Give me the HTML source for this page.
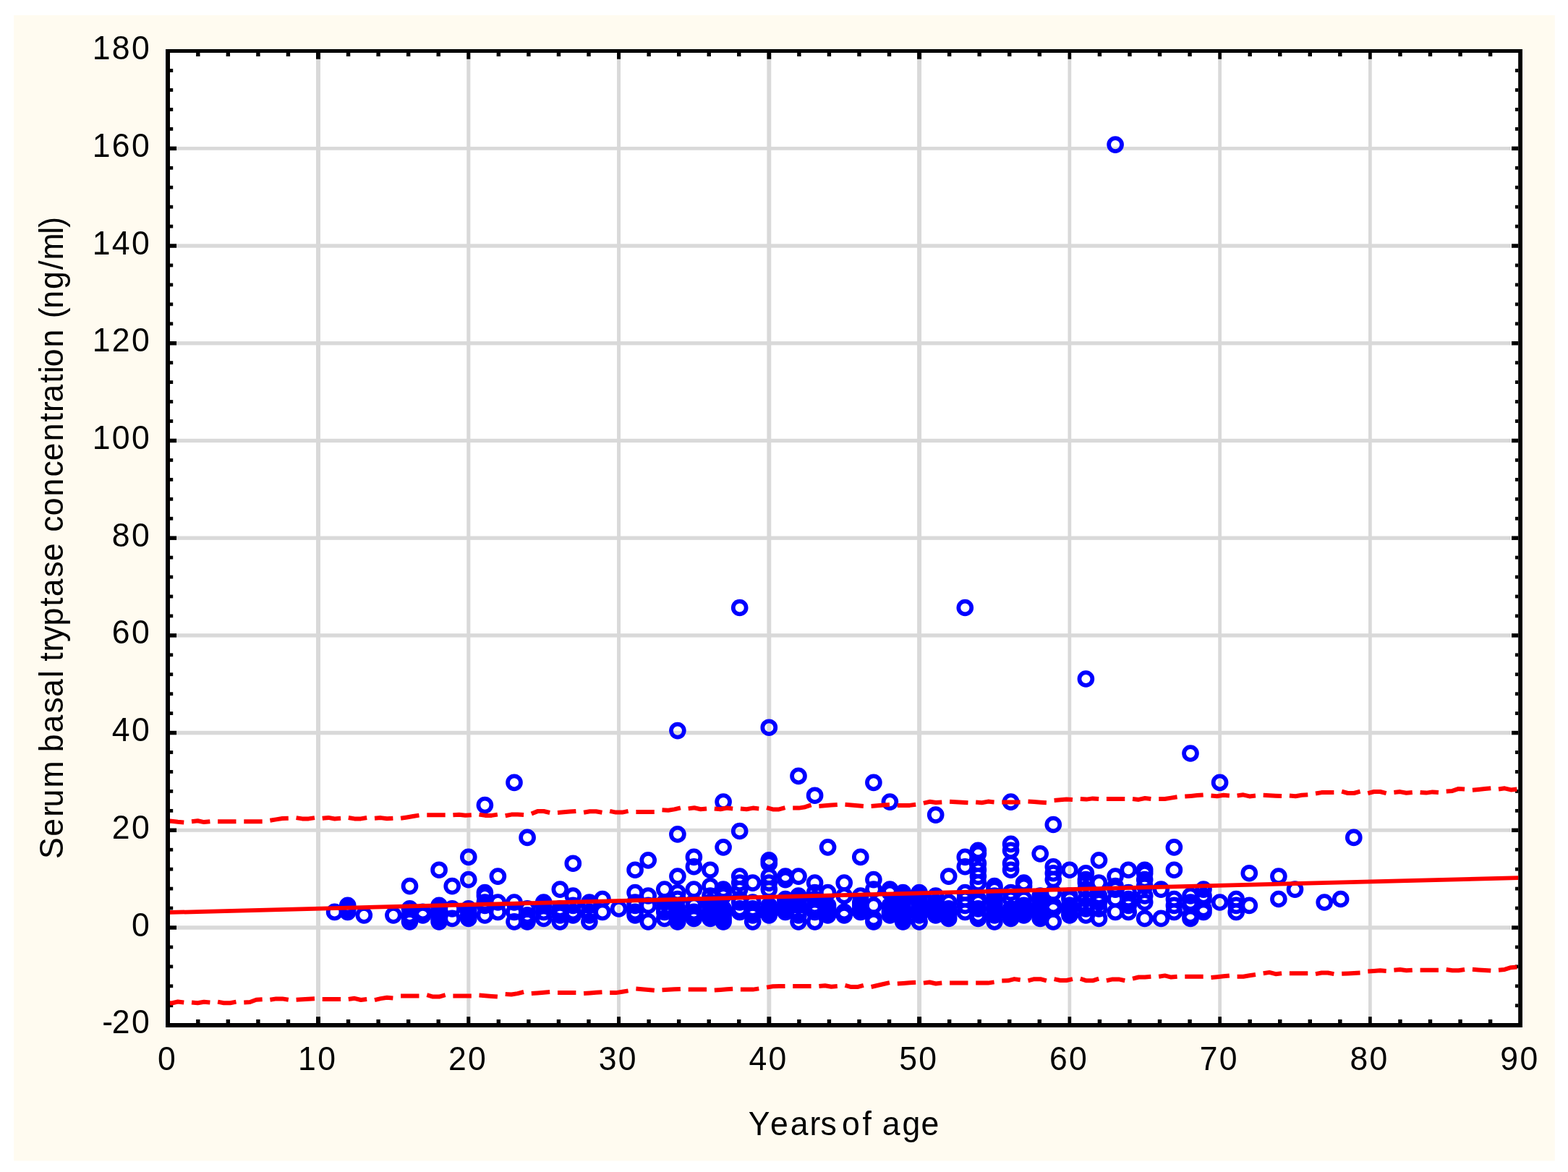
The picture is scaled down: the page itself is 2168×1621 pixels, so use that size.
<!DOCTYPE html>
<html lang="en"><head><meta charset="utf-8"><title>Serum basal tryptase concentration vs. years of age</title>
<style>html,body{margin:0;padding:0;background:#fff}body{width:2168px;height:1621px;overflow:hidden}svg{display:block}text{font-family:"Liberation Sans",Arial,Helvetica,sans-serif;fill:#000}</style>
</head><body>
<svg xmlns="http://www.w3.org/2000/svg" width="2168" height="1621" viewBox="0 0 2168 1621">
<rect x="0" y="0" width="2168" height="1621" fill="#ffffff"/>
<rect x="19.2" y="21" width="2130.6" height="1584.5" fill="#fffbf0"/>
<rect x="228" y="68.0" width="1877.0" height="1353.0" fill="#ffffff"/>
<g fill="#d9d9d9">
<rect x="437.02" y="82.0" width="6.0" height="1324.0"/>
<rect x="645.24" y="82.0" width="5.1" height="1324.0"/>
<rect x="853.06" y="82.0" width="5.0" height="1324.0"/>
<rect x="1060.37" y="82.0" width="5.9" height="1324.0"/>
<rect x="1268.09" y="82.0" width="6.0" height="1324.0"/>
<rect x="1476.51" y="82.0" width="4.7" height="1324.0"/>
<rect x="1684.28" y="82.0" width="4.7" height="1324.0"/>
<rect x="1892.05" y="82.0" width="4.7" height="1324.0"/>
<rect x="245.0" y="1280.25" width="1844.2" height="5.5"/>
<rect x="245.0" y="1145.79" width="1844.2" height="5.0"/>
<rect x="245.0" y="1010.83" width="1844.2" height="5.5"/>
<rect x="245.0" y="876.22" width="1844.2" height="5.3"/>
<rect x="245.0" y="741.51" width="1844.2" height="5.3"/>
<rect x="245.0" y="606.80" width="1844.2" height="5.3"/>
<rect x="245.0" y="472.09" width="1844.2" height="5.3"/>
<rect x="245.0" y="337.38" width="1844.2" height="5.3"/>
<rect x="245.0" y="202.92" width="1844.2" height="4.8"/>
</g>
<g fill="none" stroke="#0000ff" stroke-width="5.75">
<circle cx="462.6" cy="1261.4" r="8.95"/>
<circle cx="480.7" cy="1252.4" r="8.95"/>
<circle cx="480.7" cy="1256.9" r="8.95"/>
<circle cx="480.7" cy="1261.4" r="8.95"/>
<circle cx="503.3" cy="1265.9" r="8.95"/>
<circle cx="543.9" cy="1265.9" r="8.95"/>
<circle cx="566.5" cy="1225.6" r="8.95"/>
<circle cx="566.5" cy="1256.9" r="8.95"/>
<circle cx="566.5" cy="1265.9" r="8.95"/>
<circle cx="566.5" cy="1270.4" r="8.95"/>
<circle cx="566.5" cy="1274.8" r="8.95"/>
<circle cx="584.6" cy="1261.4" r="8.95"/>
<circle cx="584.6" cy="1265.9" r="8.95"/>
<circle cx="607.1" cy="1203.2" r="8.95"/>
<circle cx="607.1" cy="1252.4" r="8.95"/>
<circle cx="607.1" cy="1256.9" r="8.95"/>
<circle cx="607.1" cy="1261.4" r="8.95"/>
<circle cx="607.1" cy="1265.9" r="8.95"/>
<circle cx="607.1" cy="1270.4" r="8.95"/>
<circle cx="607.1" cy="1274.8" r="8.95"/>
<circle cx="625.2" cy="1225.6" r="8.95"/>
<circle cx="625.2" cy="1256.9" r="8.95"/>
<circle cx="625.2" cy="1270.4" r="8.95"/>
<circle cx="647.8" cy="1185.3" r="8.95"/>
<circle cx="647.8" cy="1216.6" r="8.95"/>
<circle cx="647.8" cy="1256.9" r="8.95"/>
<circle cx="647.8" cy="1261.4" r="8.95"/>
<circle cx="647.8" cy="1265.9" r="8.95"/>
<circle cx="647.8" cy="1270.4" r="8.95"/>
<circle cx="670.4" cy="1113.6" r="8.95"/>
<circle cx="670.4" cy="1234.5" r="8.95"/>
<circle cx="670.4" cy="1239.0" r="8.95"/>
<circle cx="670.4" cy="1248.0" r="8.95"/>
<circle cx="670.4" cy="1252.4" r="8.95"/>
<circle cx="670.4" cy="1265.9" r="8.95"/>
<circle cx="688.4" cy="1212.1" r="8.95"/>
<circle cx="688.4" cy="1248.0" r="8.95"/>
<circle cx="688.4" cy="1261.4" r="8.95"/>
<circle cx="711.0" cy="1082.3" r="8.95"/>
<circle cx="711.0" cy="1248.0" r="8.95"/>
<circle cx="711.0" cy="1261.4" r="8.95"/>
<circle cx="711.0" cy="1274.8" r="8.95"/>
<circle cx="729.1" cy="1158.4" r="8.95"/>
<circle cx="729.1" cy="1256.9" r="8.95"/>
<circle cx="729.1" cy="1265.9" r="8.95"/>
<circle cx="729.1" cy="1270.4" r="8.95"/>
<circle cx="729.1" cy="1274.8" r="8.95"/>
<circle cx="751.7" cy="1248.0" r="8.95"/>
<circle cx="751.7" cy="1252.4" r="8.95"/>
<circle cx="751.7" cy="1261.4" r="8.95"/>
<circle cx="751.7" cy="1270.4" r="8.95"/>
<circle cx="774.3" cy="1230.1" r="8.95"/>
<circle cx="774.3" cy="1256.9" r="8.95"/>
<circle cx="774.3" cy="1261.4" r="8.95"/>
<circle cx="774.3" cy="1265.9" r="8.95"/>
<circle cx="774.3" cy="1274.8" r="8.95"/>
<circle cx="792.3" cy="1194.2" r="8.95"/>
<circle cx="792.3" cy="1239.0" r="8.95"/>
<circle cx="792.3" cy="1252.4" r="8.95"/>
<circle cx="792.3" cy="1261.4" r="8.95"/>
<circle cx="792.3" cy="1265.9" r="8.95"/>
<circle cx="814.9" cy="1248.0" r="8.95"/>
<circle cx="814.9" cy="1252.4" r="8.95"/>
<circle cx="814.9" cy="1261.4" r="8.95"/>
<circle cx="814.9" cy="1265.9" r="8.95"/>
<circle cx="814.9" cy="1274.8" r="8.95"/>
<circle cx="833.0" cy="1243.5" r="8.95"/>
<circle cx="833.0" cy="1261.4" r="8.95"/>
<circle cx="855.6" cy="1256.9" r="8.95"/>
<circle cx="878.1" cy="1203.2" r="8.95"/>
<circle cx="878.1" cy="1234.5" r="8.95"/>
<circle cx="878.1" cy="1248.0" r="8.95"/>
<circle cx="878.1" cy="1252.4" r="8.95"/>
<circle cx="878.1" cy="1261.4" r="8.95"/>
<circle cx="878.1" cy="1265.9" r="8.95"/>
<circle cx="896.2" cy="1189.8" r="8.95"/>
<circle cx="896.2" cy="1239.0" r="8.95"/>
<circle cx="896.2" cy="1252.4" r="8.95"/>
<circle cx="896.2" cy="1274.8" r="8.95"/>
<circle cx="918.8" cy="1230.1" r="8.95"/>
<circle cx="918.8" cy="1248.0" r="8.95"/>
<circle cx="918.8" cy="1256.9" r="8.95"/>
<circle cx="918.8" cy="1261.4" r="8.95"/>
<circle cx="918.8" cy="1270.4" r="8.95"/>
<circle cx="936.9" cy="1010.6" r="8.95"/>
<circle cx="936.9" cy="1153.9" r="8.95"/>
<circle cx="936.9" cy="1212.1" r="8.95"/>
<circle cx="936.9" cy="1234.5" r="8.95"/>
<circle cx="936.9" cy="1243.5" r="8.95"/>
<circle cx="936.9" cy="1256.9" r="8.95"/>
<circle cx="936.9" cy="1261.4" r="8.95"/>
<circle cx="936.9" cy="1265.9" r="8.95"/>
<circle cx="936.9" cy="1270.4" r="8.95"/>
<circle cx="936.9" cy="1274.8" r="8.95"/>
<circle cx="959.4" cy="1185.3" r="8.95"/>
<circle cx="959.4" cy="1198.7" r="8.95"/>
<circle cx="959.4" cy="1230.1" r="8.95"/>
<circle cx="959.4" cy="1248.0" r="8.95"/>
<circle cx="959.4" cy="1252.4" r="8.95"/>
<circle cx="959.4" cy="1261.4" r="8.95"/>
<circle cx="959.4" cy="1265.9" r="8.95"/>
<circle cx="959.4" cy="1270.4" r="8.95"/>
<circle cx="982.0" cy="1203.2" r="8.95"/>
<circle cx="982.0" cy="1225.6" r="8.95"/>
<circle cx="982.0" cy="1239.0" r="8.95"/>
<circle cx="982.0" cy="1248.0" r="8.95"/>
<circle cx="982.0" cy="1256.9" r="8.95"/>
<circle cx="982.0" cy="1261.4" r="8.95"/>
<circle cx="982.0" cy="1265.9" r="8.95"/>
<circle cx="982.0" cy="1270.4" r="8.95"/>
<circle cx="1000.1" cy="1109.1" r="8.95"/>
<circle cx="1000.1" cy="1171.8" r="8.95"/>
<circle cx="1000.1" cy="1230.1" r="8.95"/>
<circle cx="1000.1" cy="1234.5" r="8.95"/>
<circle cx="1000.1" cy="1239.0" r="8.95"/>
<circle cx="1000.1" cy="1256.9" r="8.95"/>
<circle cx="1000.1" cy="1261.4" r="8.95"/>
<circle cx="1000.1" cy="1265.9" r="8.95"/>
<circle cx="1000.1" cy="1270.4" r="8.95"/>
<circle cx="1000.1" cy="1274.8" r="8.95"/>
<circle cx="1022.7" cy="840.5" r="8.95"/>
<circle cx="1022.7" cy="1149.5" r="8.95"/>
<circle cx="1022.7" cy="1212.1" r="8.95"/>
<circle cx="1022.7" cy="1221.1" r="8.95"/>
<circle cx="1022.7" cy="1230.1" r="8.95"/>
<circle cx="1022.7" cy="1243.5" r="8.95"/>
<circle cx="1022.7" cy="1248.0" r="8.95"/>
<circle cx="1022.7" cy="1256.9" r="8.95"/>
<circle cx="1022.7" cy="1261.4" r="8.95"/>
<circle cx="1040.7" cy="1221.1" r="8.95"/>
<circle cx="1040.7" cy="1248.0" r="8.95"/>
<circle cx="1040.7" cy="1256.9" r="8.95"/>
<circle cx="1040.7" cy="1261.4" r="8.95"/>
<circle cx="1040.7" cy="1265.9" r="8.95"/>
<circle cx="1040.7" cy="1274.8" r="8.95"/>
<circle cx="1063.3" cy="1006.2" r="8.95"/>
<circle cx="1063.3" cy="1189.8" r="8.95"/>
<circle cx="1063.3" cy="1194.2" r="8.95"/>
<circle cx="1063.3" cy="1212.1" r="8.95"/>
<circle cx="1063.3" cy="1221.1" r="8.95"/>
<circle cx="1063.3" cy="1230.1" r="8.95"/>
<circle cx="1063.3" cy="1252.4" r="8.95"/>
<circle cx="1063.3" cy="1256.9" r="8.95"/>
<circle cx="1063.3" cy="1261.4" r="8.95"/>
<circle cx="1063.3" cy="1265.9" r="8.95"/>
<circle cx="1085.9" cy="1212.1" r="8.95"/>
<circle cx="1085.9" cy="1216.6" r="8.95"/>
<circle cx="1085.9" cy="1243.5" r="8.95"/>
<circle cx="1085.9" cy="1248.0" r="8.95"/>
<circle cx="1085.9" cy="1252.4" r="8.95"/>
<circle cx="1085.9" cy="1256.9" r="8.95"/>
<circle cx="1085.9" cy="1261.4" r="8.95"/>
<circle cx="1104.0" cy="1073.3" r="8.95"/>
<circle cx="1104.0" cy="1212.1" r="8.95"/>
<circle cx="1104.0" cy="1239.0" r="8.95"/>
<circle cx="1104.0" cy="1243.5" r="8.95"/>
<circle cx="1104.0" cy="1248.0" r="8.95"/>
<circle cx="1104.0" cy="1252.4" r="8.95"/>
<circle cx="1104.0" cy="1261.4" r="8.95"/>
<circle cx="1104.0" cy="1265.9" r="8.95"/>
<circle cx="1104.0" cy="1274.8" r="8.95"/>
<circle cx="1126.6" cy="1100.2" r="8.95"/>
<circle cx="1126.6" cy="1221.1" r="8.95"/>
<circle cx="1126.6" cy="1234.5" r="8.95"/>
<circle cx="1126.6" cy="1243.5" r="8.95"/>
<circle cx="1126.6" cy="1252.4" r="8.95"/>
<circle cx="1126.6" cy="1256.9" r="8.95"/>
<circle cx="1126.6" cy="1261.4" r="8.95"/>
<circle cx="1126.6" cy="1274.8" r="8.95"/>
<circle cx="1144.6" cy="1171.8" r="8.95"/>
<circle cx="1144.6" cy="1234.5" r="8.95"/>
<circle cx="1144.6" cy="1252.4" r="8.95"/>
<circle cx="1144.6" cy="1256.9" r="8.95"/>
<circle cx="1144.6" cy="1261.4" r="8.95"/>
<circle cx="1144.6" cy="1265.9" r="8.95"/>
<circle cx="1167.2" cy="1221.1" r="8.95"/>
<circle cx="1167.2" cy="1239.0" r="8.95"/>
<circle cx="1167.2" cy="1261.4" r="8.95"/>
<circle cx="1167.2" cy="1265.9" r="8.95"/>
<circle cx="1189.8" cy="1185.3" r="8.95"/>
<circle cx="1189.8" cy="1239.0" r="8.95"/>
<circle cx="1189.8" cy="1248.0" r="8.95"/>
<circle cx="1189.8" cy="1252.4" r="8.95"/>
<circle cx="1189.8" cy="1256.9" r="8.95"/>
<circle cx="1189.8" cy="1261.4" r="8.95"/>
<circle cx="1207.9" cy="1082.3" r="8.95"/>
<circle cx="1207.9" cy="1216.6" r="8.95"/>
<circle cx="1207.9" cy="1230.1" r="8.95"/>
<circle cx="1207.9" cy="1252.4" r="8.95"/>
<circle cx="1207.9" cy="1270.4" r="8.95"/>
<circle cx="1207.9" cy="1274.8" r="8.95"/>
<circle cx="1230.4" cy="1109.1" r="8.95"/>
<circle cx="1230.4" cy="1230.1" r="8.95"/>
<circle cx="1230.4" cy="1234.5" r="8.95"/>
<circle cx="1230.4" cy="1252.4" r="8.95"/>
<circle cx="1230.4" cy="1256.9" r="8.95"/>
<circle cx="1230.4" cy="1261.4" r="8.95"/>
<circle cx="1230.4" cy="1265.9" r="8.95"/>
<circle cx="1248.5" cy="1234.5" r="8.95"/>
<circle cx="1248.5" cy="1239.0" r="8.95"/>
<circle cx="1248.5" cy="1243.5" r="8.95"/>
<circle cx="1248.5" cy="1248.0" r="8.95"/>
<circle cx="1248.5" cy="1256.9" r="8.95"/>
<circle cx="1248.5" cy="1261.4" r="8.95"/>
<circle cx="1248.5" cy="1265.9" r="8.95"/>
<circle cx="1248.5" cy="1270.4" r="8.95"/>
<circle cx="1248.5" cy="1274.8" r="8.95"/>
<circle cx="1271.1" cy="1234.5" r="8.95"/>
<circle cx="1271.1" cy="1239.0" r="8.95"/>
<circle cx="1271.1" cy="1243.5" r="8.95"/>
<circle cx="1271.1" cy="1248.0" r="8.95"/>
<circle cx="1271.1" cy="1252.4" r="8.95"/>
<circle cx="1271.1" cy="1256.9" r="8.95"/>
<circle cx="1271.1" cy="1261.4" r="8.95"/>
<circle cx="1271.1" cy="1265.9" r="8.95"/>
<circle cx="1271.1" cy="1274.8" r="8.95"/>
<circle cx="1293.7" cy="1127.1" r="8.95"/>
<circle cx="1293.7" cy="1239.0" r="8.95"/>
<circle cx="1293.7" cy="1248.0" r="8.95"/>
<circle cx="1293.7" cy="1252.4" r="8.95"/>
<circle cx="1293.7" cy="1256.9" r="8.95"/>
<circle cx="1293.7" cy="1261.4" r="8.95"/>
<circle cx="1293.7" cy="1265.9" r="8.95"/>
<circle cx="1311.7" cy="1212.1" r="8.95"/>
<circle cx="1311.7" cy="1248.0" r="8.95"/>
<circle cx="1311.7" cy="1256.9" r="8.95"/>
<circle cx="1311.7" cy="1261.4" r="8.95"/>
<circle cx="1311.7" cy="1265.9" r="8.95"/>
<circle cx="1311.7" cy="1270.4" r="8.95"/>
<circle cx="1334.3" cy="840.5" r="8.95"/>
<circle cx="1334.3" cy="1185.3" r="8.95"/>
<circle cx="1334.3" cy="1198.7" r="8.95"/>
<circle cx="1334.3" cy="1234.5" r="8.95"/>
<circle cx="1334.3" cy="1243.5" r="8.95"/>
<circle cx="1334.3" cy="1252.4" r="8.95"/>
<circle cx="1334.3" cy="1261.4" r="8.95"/>
<circle cx="1352.4" cy="1176.3" r="8.95"/>
<circle cx="1352.4" cy="1180.8" r="8.95"/>
<circle cx="1352.4" cy="1194.2" r="8.95"/>
<circle cx="1352.4" cy="1203.2" r="8.95"/>
<circle cx="1352.4" cy="1212.1" r="8.95"/>
<circle cx="1352.4" cy="1221.1" r="8.95"/>
<circle cx="1352.4" cy="1243.5" r="8.95"/>
<circle cx="1352.4" cy="1248.0" r="8.95"/>
<circle cx="1352.4" cy="1256.9" r="8.95"/>
<circle cx="1352.4" cy="1265.9" r="8.95"/>
<circle cx="1352.4" cy="1270.4" r="8.95"/>
<circle cx="1375.0" cy="1225.6" r="8.95"/>
<circle cx="1375.0" cy="1230.1" r="8.95"/>
<circle cx="1375.0" cy="1239.0" r="8.95"/>
<circle cx="1375.0" cy="1248.0" r="8.95"/>
<circle cx="1375.0" cy="1252.4" r="8.95"/>
<circle cx="1375.0" cy="1256.9" r="8.95"/>
<circle cx="1375.0" cy="1261.4" r="8.95"/>
<circle cx="1375.0" cy="1265.9" r="8.95"/>
<circle cx="1375.0" cy="1274.8" r="8.95"/>
<circle cx="1397.6" cy="1109.1" r="8.95"/>
<circle cx="1397.6" cy="1167.4" r="8.95"/>
<circle cx="1397.6" cy="1176.3" r="8.95"/>
<circle cx="1397.6" cy="1194.2" r="8.95"/>
<circle cx="1397.6" cy="1203.2" r="8.95"/>
<circle cx="1397.6" cy="1234.5" r="8.95"/>
<circle cx="1397.6" cy="1243.5" r="8.95"/>
<circle cx="1397.6" cy="1256.9" r="8.95"/>
<circle cx="1397.6" cy="1261.4" r="8.95"/>
<circle cx="1397.6" cy="1265.9" r="8.95"/>
<circle cx="1397.6" cy="1270.4" r="8.95"/>
<circle cx="1415.6" cy="1221.1" r="8.95"/>
<circle cx="1415.6" cy="1225.6" r="8.95"/>
<circle cx="1415.6" cy="1243.5" r="8.95"/>
<circle cx="1415.6" cy="1252.4" r="8.95"/>
<circle cx="1415.6" cy="1256.9" r="8.95"/>
<circle cx="1415.6" cy="1261.4" r="8.95"/>
<circle cx="1415.6" cy="1265.9" r="8.95"/>
<circle cx="1438.2" cy="1180.8" r="8.95"/>
<circle cx="1438.2" cy="1239.0" r="8.95"/>
<circle cx="1438.2" cy="1243.5" r="8.95"/>
<circle cx="1438.2" cy="1248.0" r="8.95"/>
<circle cx="1438.2" cy="1252.4" r="8.95"/>
<circle cx="1438.2" cy="1256.9" r="8.95"/>
<circle cx="1438.2" cy="1261.4" r="8.95"/>
<circle cx="1438.2" cy="1265.9" r="8.95"/>
<circle cx="1438.2" cy="1270.4" r="8.95"/>
<circle cx="1456.3" cy="1140.5" r="8.95"/>
<circle cx="1456.3" cy="1198.7" r="8.95"/>
<circle cx="1456.3" cy="1207.7" r="8.95"/>
<circle cx="1456.3" cy="1216.6" r="8.95"/>
<circle cx="1456.3" cy="1234.5" r="8.95"/>
<circle cx="1456.3" cy="1252.4" r="8.95"/>
<circle cx="1456.3" cy="1256.9" r="8.95"/>
<circle cx="1456.3" cy="1274.8" r="8.95"/>
<circle cx="1478.9" cy="1203.2" r="8.95"/>
<circle cx="1478.9" cy="1239.0" r="8.95"/>
<circle cx="1478.9" cy="1243.5" r="8.95"/>
<circle cx="1478.9" cy="1252.4" r="8.95"/>
<circle cx="1478.9" cy="1256.9" r="8.95"/>
<circle cx="1478.9" cy="1261.4" r="8.95"/>
<circle cx="1478.9" cy="1265.9" r="8.95"/>
<circle cx="1501.4" cy="939.0" r="8.95"/>
<circle cx="1501.4" cy="1207.7" r="8.95"/>
<circle cx="1501.4" cy="1216.6" r="8.95"/>
<circle cx="1501.4" cy="1221.1" r="8.95"/>
<circle cx="1501.4" cy="1230.1" r="8.95"/>
<circle cx="1501.4" cy="1243.5" r="8.95"/>
<circle cx="1501.4" cy="1252.4" r="8.95"/>
<circle cx="1501.4" cy="1256.9" r="8.95"/>
<circle cx="1501.4" cy="1265.9" r="8.95"/>
<circle cx="1519.5" cy="1189.8" r="8.95"/>
<circle cx="1519.5" cy="1221.1" r="8.95"/>
<circle cx="1519.5" cy="1239.0" r="8.95"/>
<circle cx="1519.5" cy="1243.5" r="8.95"/>
<circle cx="1519.5" cy="1248.0" r="8.95"/>
<circle cx="1519.5" cy="1256.9" r="8.95"/>
<circle cx="1519.5" cy="1270.4" r="8.95"/>
<circle cx="1542.1" cy="200.1" r="8.95"/>
<circle cx="1542.1" cy="1212.1" r="8.95"/>
<circle cx="1542.1" cy="1225.6" r="8.95"/>
<circle cx="1542.1" cy="1230.1" r="8.95"/>
<circle cx="1542.1" cy="1243.5" r="8.95"/>
<circle cx="1542.1" cy="1261.4" r="8.95"/>
<circle cx="1560.2" cy="1203.2" r="8.95"/>
<circle cx="1560.2" cy="1234.5" r="8.95"/>
<circle cx="1560.2" cy="1243.5" r="8.95"/>
<circle cx="1560.2" cy="1248.0" r="8.95"/>
<circle cx="1560.2" cy="1252.4" r="8.95"/>
<circle cx="1560.2" cy="1261.4" r="8.95"/>
<circle cx="1582.7" cy="1203.2" r="8.95"/>
<circle cx="1582.7" cy="1207.7" r="8.95"/>
<circle cx="1582.7" cy="1216.6" r="8.95"/>
<circle cx="1582.7" cy="1225.6" r="8.95"/>
<circle cx="1582.7" cy="1239.0" r="8.95"/>
<circle cx="1582.7" cy="1248.0" r="8.95"/>
<circle cx="1582.7" cy="1270.4" r="8.95"/>
<circle cx="1605.3" cy="1230.1" r="8.95"/>
<circle cx="1605.3" cy="1270.4" r="8.95"/>
<circle cx="1623.4" cy="1171.8" r="8.95"/>
<circle cx="1623.4" cy="1203.2" r="8.95"/>
<circle cx="1623.4" cy="1243.5" r="8.95"/>
<circle cx="1623.4" cy="1252.4" r="8.95"/>
<circle cx="1623.4" cy="1261.4" r="8.95"/>
<circle cx="1646.0" cy="1042.0" r="8.95"/>
<circle cx="1646.0" cy="1239.0" r="8.95"/>
<circle cx="1646.0" cy="1248.0" r="8.95"/>
<circle cx="1646.0" cy="1252.4" r="8.95"/>
<circle cx="1646.0" cy="1265.9" r="8.95"/>
<circle cx="1646.0" cy="1270.4" r="8.95"/>
<circle cx="1664.0" cy="1230.1" r="8.95"/>
<circle cx="1664.0" cy="1239.0" r="8.95"/>
<circle cx="1664.0" cy="1243.5" r="8.95"/>
<circle cx="1664.0" cy="1256.9" r="8.95"/>
<circle cx="1664.0" cy="1261.4" r="8.95"/>
<circle cx="1686.6" cy="1082.3" r="8.95"/>
<circle cx="1686.6" cy="1248.0" r="8.95"/>
<circle cx="1709.2" cy="1243.5" r="8.95"/>
<circle cx="1709.2" cy="1252.4" r="8.95"/>
<circle cx="1709.2" cy="1261.4" r="8.95"/>
<circle cx="1727.3" cy="1207.7" r="8.95"/>
<circle cx="1727.3" cy="1252.4" r="8.95"/>
<circle cx="1767.9" cy="1212.1" r="8.95"/>
<circle cx="1767.9" cy="1243.5" r="8.95"/>
<circle cx="1790.5" cy="1230.1" r="8.95"/>
<circle cx="1831.2" cy="1248.0" r="8.95"/>
<circle cx="1853.7" cy="1243.5" r="8.95"/>
<circle cx="1871.8" cy="1158.4" r="8.95"/>
</g>
<g fill="#000000">
<rect x="229.0" y="68.0" width="6.0" height="1353.0"/>
<rect x="2099.2" y="68.0" width="5.8" height="1353.0"/>
<rect x="229.0" y="68.0" width="1876.0" height="5.0"/>
<rect x="229.0" y="1415.0" width="1876.0" height="6.0"/>
<rect x="271.11" y="73.0" width="5.4" height="5.0"/>
<rect x="271.11" y="1410.0" width="5.4" height="5.0"/>
<rect x="312.66" y="73.0" width="5.4" height="5.0"/>
<rect x="312.66" y="1410.0" width="5.4" height="5.0"/>
<rect x="354.21" y="73.0" width="5.4" height="5.0"/>
<rect x="354.21" y="1410.0" width="5.4" height="5.0"/>
<rect x="395.77" y="73.0" width="5.4" height="5.0"/>
<rect x="395.77" y="1410.0" width="5.4" height="5.0"/>
<rect x="437.02" y="73.0" width="6.0" height="8.8"/>
<rect x="437.02" y="1406.2" width="6.0" height="8.8"/>
<rect x="478.87" y="73.0" width="5.4" height="5.0"/>
<rect x="478.87" y="1410.0" width="5.4" height="5.0"/>
<rect x="520.43" y="73.0" width="5.4" height="5.0"/>
<rect x="520.43" y="1410.0" width="5.4" height="5.0"/>
<rect x="561.98" y="73.0" width="5.4" height="5.0"/>
<rect x="561.98" y="1410.0" width="5.4" height="5.0"/>
<rect x="603.53" y="73.0" width="5.4" height="5.0"/>
<rect x="603.53" y="1410.0" width="5.4" height="5.0"/>
<rect x="645.24" y="73.0" width="5.1" height="8.8"/>
<rect x="645.24" y="1406.2" width="5.1" height="8.8"/>
<rect x="686.64" y="73.0" width="5.4" height="5.0"/>
<rect x="686.64" y="1410.0" width="5.4" height="5.0"/>
<rect x="728.20" y="73.0" width="5.4" height="5.0"/>
<rect x="728.20" y="1410.0" width="5.4" height="5.0"/>
<rect x="769.75" y="73.0" width="5.4" height="5.0"/>
<rect x="769.75" y="1410.0" width="5.4" height="5.0"/>
<rect x="811.30" y="73.0" width="5.4" height="5.0"/>
<rect x="811.30" y="1410.0" width="5.4" height="5.0"/>
<rect x="853.06" y="73.0" width="5.0" height="8.8"/>
<rect x="853.06" y="1406.2" width="5.0" height="8.8"/>
<rect x="894.41" y="73.0" width="5.4" height="5.0"/>
<rect x="894.41" y="1410.0" width="5.4" height="5.0"/>
<rect x="935.96" y="73.0" width="5.4" height="5.0"/>
<rect x="935.96" y="1410.0" width="5.4" height="5.0"/>
<rect x="977.52" y="73.0" width="5.4" height="5.0"/>
<rect x="977.52" y="1410.0" width="5.4" height="5.0"/>
<rect x="1019.07" y="73.0" width="5.4" height="5.0"/>
<rect x="1019.07" y="1410.0" width="5.4" height="5.0"/>
<rect x="1060.37" y="73.0" width="5.9" height="8.8"/>
<rect x="1060.37" y="1406.2" width="5.9" height="8.8"/>
<rect x="1102.18" y="73.0" width="5.4" height="5.0"/>
<rect x="1102.18" y="1410.0" width="5.4" height="5.0"/>
<rect x="1143.73" y="73.0" width="5.4" height="5.0"/>
<rect x="1143.73" y="1410.0" width="5.4" height="5.0"/>
<rect x="1185.29" y="73.0" width="5.4" height="5.0"/>
<rect x="1185.29" y="1410.0" width="5.4" height="5.0"/>
<rect x="1226.84" y="73.0" width="5.4" height="5.0"/>
<rect x="1226.84" y="1410.0" width="5.4" height="5.0"/>
<rect x="1268.09" y="73.0" width="6.0" height="8.8"/>
<rect x="1268.09" y="1406.2" width="6.0" height="8.8"/>
<rect x="1309.95" y="73.0" width="5.4" height="5.0"/>
<rect x="1309.95" y="1410.0" width="5.4" height="5.0"/>
<rect x="1351.50" y="73.0" width="5.4" height="5.0"/>
<rect x="1351.50" y="1410.0" width="5.4" height="5.0"/>
<rect x="1393.05" y="73.0" width="5.4" height="5.0"/>
<rect x="1393.05" y="1410.0" width="5.4" height="5.0"/>
<rect x="1434.61" y="73.0" width="5.4" height="5.0"/>
<rect x="1434.61" y="1410.0" width="5.4" height="5.0"/>
<rect x="1476.51" y="73.0" width="4.7" height="8.8"/>
<rect x="1476.51" y="1406.2" width="4.7" height="8.8"/>
<rect x="1517.71" y="73.0" width="5.4" height="5.0"/>
<rect x="1517.71" y="1410.0" width="5.4" height="5.0"/>
<rect x="1559.27" y="73.0" width="5.4" height="5.0"/>
<rect x="1559.27" y="1410.0" width="5.4" height="5.0"/>
<rect x="1600.82" y="73.0" width="5.4" height="5.0"/>
<rect x="1600.82" y="1410.0" width="5.4" height="5.0"/>
<rect x="1642.38" y="73.0" width="5.4" height="5.0"/>
<rect x="1642.38" y="1410.0" width="5.4" height="5.0"/>
<rect x="1684.28" y="73.0" width="4.7" height="8.8"/>
<rect x="1684.28" y="1406.2" width="4.7" height="8.8"/>
<rect x="1725.48" y="73.0" width="5.4" height="5.0"/>
<rect x="1725.48" y="1410.0" width="5.4" height="5.0"/>
<rect x="1767.04" y="73.0" width="5.4" height="5.0"/>
<rect x="1767.04" y="1410.0" width="5.4" height="5.0"/>
<rect x="1808.59" y="73.0" width="5.4" height="5.0"/>
<rect x="1808.59" y="1410.0" width="5.4" height="5.0"/>
<rect x="1850.14" y="73.0" width="5.4" height="5.0"/>
<rect x="1850.14" y="1410.0" width="5.4" height="5.0"/>
<rect x="1892.05" y="73.0" width="4.7" height="8.8"/>
<rect x="1892.05" y="1406.2" width="4.7" height="8.8"/>
<rect x="1933.25" y="73.0" width="5.4" height="5.0"/>
<rect x="1933.25" y="1410.0" width="5.4" height="5.0"/>
<rect x="1974.80" y="73.0" width="5.4" height="5.0"/>
<rect x="1974.80" y="1410.0" width="5.4" height="5.0"/>
<rect x="2016.36" y="73.0" width="5.4" height="5.0"/>
<rect x="2016.36" y="1410.0" width="5.4" height="5.0"/>
<rect x="2057.91" y="73.0" width="5.4" height="5.0"/>
<rect x="2057.91" y="1410.0" width="5.4" height="5.0"/>
<rect x="235.0" y="1388.37" width="4.2" height="4.8"/>
<rect x="2095.0" y="1388.37" width="4.2" height="4.8"/>
<rect x="235.0" y="1361.43" width="4.2" height="4.8"/>
<rect x="2095.0" y="1361.43" width="4.2" height="4.8"/>
<rect x="235.0" y="1334.48" width="4.2" height="4.8"/>
<rect x="2095.0" y="1334.48" width="4.2" height="4.8"/>
<rect x="235.0" y="1307.54" width="4.2" height="4.8"/>
<rect x="2095.0" y="1307.54" width="4.2" height="4.8"/>
<rect x="235.0" y="1280.25" width="9.2" height="5.5"/>
<rect x="2090.0" y="1280.25" width="9.2" height="5.5"/>
<rect x="235.0" y="1253.66" width="4.2" height="4.8"/>
<rect x="2095.0" y="1253.66" width="4.2" height="4.8"/>
<rect x="235.0" y="1226.72" width="4.2" height="4.8"/>
<rect x="2095.0" y="1226.72" width="4.2" height="4.8"/>
<rect x="235.0" y="1199.77" width="4.2" height="4.8"/>
<rect x="2095.0" y="1199.77" width="4.2" height="4.8"/>
<rect x="235.0" y="1172.83" width="4.2" height="4.8"/>
<rect x="2095.0" y="1172.83" width="4.2" height="4.8"/>
<rect x="235.0" y="1145.54" width="9.2" height="5.5"/>
<rect x="2090.0" y="1145.54" width="9.2" height="5.5"/>
<rect x="235.0" y="1118.95" width="4.2" height="4.8"/>
<rect x="2095.0" y="1118.95" width="4.2" height="4.8"/>
<rect x="235.0" y="1092.01" width="4.2" height="4.8"/>
<rect x="2095.0" y="1092.01" width="4.2" height="4.8"/>
<rect x="235.0" y="1065.06" width="4.2" height="4.8"/>
<rect x="2095.0" y="1065.06" width="4.2" height="4.8"/>
<rect x="235.0" y="1038.12" width="4.2" height="4.8"/>
<rect x="2095.0" y="1038.12" width="4.2" height="4.8"/>
<rect x="235.0" y="1010.83" width="9.2" height="5.5"/>
<rect x="2090.0" y="1010.83" width="9.2" height="5.5"/>
<rect x="235.0" y="984.24" width="4.2" height="4.8"/>
<rect x="2095.0" y="984.24" width="4.2" height="4.8"/>
<rect x="235.0" y="957.30" width="4.2" height="4.8"/>
<rect x="2095.0" y="957.30" width="4.2" height="4.8"/>
<rect x="235.0" y="930.35" width="4.2" height="4.8"/>
<rect x="2095.0" y="930.35" width="4.2" height="4.8"/>
<rect x="235.0" y="903.41" width="4.2" height="4.8"/>
<rect x="2095.0" y="903.41" width="4.2" height="4.8"/>
<rect x="235.0" y="876.12" width="9.2" height="5.5"/>
<rect x="2090.0" y="876.12" width="9.2" height="5.5"/>
<rect x="235.0" y="849.53" width="4.2" height="4.8"/>
<rect x="2095.0" y="849.53" width="4.2" height="4.8"/>
<rect x="235.0" y="822.59" width="4.2" height="4.8"/>
<rect x="2095.0" y="822.59" width="4.2" height="4.8"/>
<rect x="235.0" y="795.64" width="4.2" height="4.8"/>
<rect x="2095.0" y="795.64" width="4.2" height="4.8"/>
<rect x="235.0" y="768.70" width="4.2" height="4.8"/>
<rect x="2095.0" y="768.70" width="4.2" height="4.8"/>
<rect x="235.0" y="741.41" width="9.2" height="5.5"/>
<rect x="2090.0" y="741.41" width="9.2" height="5.5"/>
<rect x="235.0" y="714.82" width="4.2" height="4.8"/>
<rect x="2095.0" y="714.82" width="4.2" height="4.8"/>
<rect x="235.0" y="687.88" width="4.2" height="4.8"/>
<rect x="2095.0" y="687.88" width="4.2" height="4.8"/>
<rect x="235.0" y="660.93" width="4.2" height="4.8"/>
<rect x="2095.0" y="660.93" width="4.2" height="4.8"/>
<rect x="235.0" y="633.99" width="4.2" height="4.8"/>
<rect x="2095.0" y="633.99" width="4.2" height="4.8"/>
<rect x="235.0" y="606.70" width="9.2" height="5.5"/>
<rect x="2090.0" y="606.70" width="9.2" height="5.5"/>
<rect x="235.0" y="580.11" width="4.2" height="4.8"/>
<rect x="2095.0" y="580.11" width="4.2" height="4.8"/>
<rect x="235.0" y="553.17" width="4.2" height="4.8"/>
<rect x="2095.0" y="553.17" width="4.2" height="4.8"/>
<rect x="235.0" y="526.22" width="4.2" height="4.8"/>
<rect x="2095.0" y="526.22" width="4.2" height="4.8"/>
<rect x="235.0" y="499.28" width="4.2" height="4.8"/>
<rect x="2095.0" y="499.28" width="4.2" height="4.8"/>
<rect x="235.0" y="471.99" width="9.2" height="5.5"/>
<rect x="2090.0" y="471.99" width="9.2" height="5.5"/>
<rect x="235.0" y="445.40" width="4.2" height="4.8"/>
<rect x="2095.0" y="445.40" width="4.2" height="4.8"/>
<rect x="235.0" y="418.46" width="4.2" height="4.8"/>
<rect x="2095.0" y="418.46" width="4.2" height="4.8"/>
<rect x="235.0" y="391.51" width="4.2" height="4.8"/>
<rect x="2095.0" y="391.51" width="4.2" height="4.8"/>
<rect x="235.0" y="364.57" width="4.2" height="4.8"/>
<rect x="2095.0" y="364.57" width="4.2" height="4.8"/>
<rect x="235.0" y="337.28" width="9.2" height="5.5"/>
<rect x="2090.0" y="337.28" width="9.2" height="5.5"/>
<rect x="235.0" y="310.69" width="4.2" height="4.8"/>
<rect x="2095.0" y="310.69" width="4.2" height="4.8"/>
<rect x="235.0" y="283.75" width="4.2" height="4.8"/>
<rect x="2095.0" y="283.75" width="4.2" height="4.8"/>
<rect x="235.0" y="256.80" width="4.2" height="4.8"/>
<rect x="2095.0" y="256.80" width="4.2" height="4.8"/>
<rect x="235.0" y="229.86" width="4.2" height="4.8"/>
<rect x="2095.0" y="229.86" width="4.2" height="4.8"/>
<rect x="235.0" y="202.57" width="9.2" height="5.5"/>
<rect x="2090.0" y="202.57" width="9.2" height="5.5"/>
<rect x="235.0" y="175.98" width="4.2" height="4.8"/>
<rect x="2095.0" y="175.98" width="4.2" height="4.8"/>
<rect x="235.0" y="149.04" width="4.2" height="4.8"/>
<rect x="2095.0" y="149.04" width="4.2" height="4.8"/>
<rect x="235.0" y="122.09" width="4.2" height="4.8"/>
<rect x="2095.0" y="122.09" width="4.2" height="4.8"/>
<rect x="235.0" y="95.15" width="4.2" height="4.8"/>
<rect x="2095.0" y="95.15" width="4.2" height="4.8"/>
</g>
<clipPath id="pc"><rect x="235.0" y="73.0" width="1864.2" height="1342.0"/></clipPath>
<g clip-path="url(#pc)" fill="none" stroke="#ff0000">
<line x1="229" y1="1262.15" x2="2105" y2="1213.95" stroke-width="5.75"/>
<path d="M228.9 1135.1 L237.2 1135.8 L245.9 1136.8 L254.3 1137.5 M265.0 1136.3 L273.4 1135.2 L282.0 1137.1 L290.4 1136.3 M301.1 1136.3 L309.5 1136.3 L318.2 1136.3 L326.5 1136.3 M337.3 1136.3 L345.7 1136.3 L354.3 1136.3 L362.7 1136.3 M373.4 1134.8 L381.8 1133.4 L390.4 1132.0 L398.8 1131.8 M409.6 1131.1 L417.9 1132.4 L426.6 1132.4 L435.0 1131.1 M445.7 1131.8 L454.1 1130.9 L462.7 1132.5 L471.1 1131.8 M481.8 1131.0 L490.2 1132.4 L498.9 1132.4 L507.2 1131.0 M518.0 1131.8 L526.4 1131.1 L535.0 1132.3 L543.4 1131.8 M554.1 1131.8 L562.5 1130.5 L571.1 1129.0 L579.5 1127.6 M590.3 1127.3 L598.6 1127.3 L607.3 1127.3 L615.7 1127.3 M626.4 1127.3 L634.8 1126.7 L643.4 1127.8 L651.8 1127.3 M662.5 1126.6 L670.9 1127.9 L679.6 1127.9 L687.9 1126.6 M698.7 1128.3 L707.1 1126.6 L715.7 1126.6 L724.1 1127.1 M734.8 1125.5 L743.2 1122.1 L751.8 1122.0 L760.2 1124.0 M771.0 1123.9 L779.3 1123.2 L788.0 1122.5 L796.4 1121.9 M807.1 1123.7 L815.5 1122.2 L824.1 1122.2 L832.5 1123.7 M843.2 1121.9 L851.6 1123.6 L860.3 1123.6 L868.6 1121.9 M879.4 1122.9 L887.8 1122.9 L896.4 1122.9 L904.8 1122.9 M915.5 1120.3 L923.9 1120.8 L932.5 1119.4 L940.9 1117.3 M951.7 1118.4 L960.0 1117.3 L968.7 1119.2 L977.1 1118.4 M987.8 1118.4 L996.2 1119.3 L1004.8 1117.5 L1013.2 1118.4 M1023.9 1118.4 L1032.3 1119.2 L1041.0 1117.6 L1049.3 1118.4 M1060.1 1117.1 L1068.5 1119.4 L1077.1 1119.4 L1085.5 1117.1 M1096.2 1117.6 L1104.6 1117.6 L1113.2 1116.2 L1121.6 1113.4 M1132.4 1114.9 L1140.7 1114.3 L1149.4 1113.5 L1157.8 1112.9 M1168.5 1112.8 L1176.9 1113.5 L1185.5 1114.3 L1193.9 1115.0 M1204.6 1114.9 L1213.0 1114.3 L1221.7 1113.5 L1230.0 1112.9 M1240.8 1113.9 L1249.2 1113.9 L1257.8 1113.9 L1266.2 1112.7 M1276.9 1110.9 L1285.3 1108.8 L1293.9 1110.0 L1302.3 1109.4 M1313.1 1108.7 L1321.4 1109.2 L1330.1 1109.7 L1338.5 1110.2 M1349.2 1109.4 L1357.6 1110.2 L1366.2 1108.6 L1374.6 1109.4 M1385.3 1109.4 L1393.7 1109.4 L1402.4 1109.4 L1410.7 1109.4 M1421.5 1108.6 L1429.9 1109.1 L1438.5 1109.8 L1446.9 1110.3 M1457.6 1106.9 L1466.0 1106.2 L1474.6 1105.5 L1483.0 1106.0 M1493.8 1105.0 L1502.1 1105.6 L1510.8 1104.4 L1519.2 1105.0 M1529.9 1105.0 L1538.3 1105.0 L1546.9 1105.0 L1555.3 1105.0 M1566.0 1105.0 L1574.4 1105.9 L1583.1 1104.0 L1591.4 1105.0 M1602.2 1105.0 L1610.6 1105.0 L1619.2 1103.6 L1627.6 1102.2 M1638.3 1101.5 L1646.7 1100.9 L1655.3 1100.1 L1663.7 1099.4 M1674.5 1100.5 L1682.8 1101.2 L1691.5 1099.8 L1699.9 1100.5 M1710.6 1100.5 L1719.0 1099.3 L1727.6 1101.4 L1736.0 1100.5 M1746.7 1099.8 L1755.1 1100.2 L1763.8 1100.7 L1772.1 1101.1 M1782.9 1100.5 L1791.3 1101.2 L1799.9 1099.7 L1808.3 1099.2 M1819.0 1097.5 L1827.4 1096.1 L1836.0 1096.0 L1844.4 1096.0 M1855.2 1094.7 L1863.5 1097.0 L1872.2 1097.0 L1880.6 1094.7 M1891.3 1097.2 L1899.7 1095.0 L1908.3 1095.0 L1916.7 1097.2 M1927.4 1096.0 L1935.8 1095.1 L1944.5 1096.7 L1952.8 1096.0 M1963.6 1096.0 L1972.0 1096.6 L1980.6 1095.4 L1989.0 1096.0 M1999.7 1094.5 L2008.1 1093.9 L2016.7 1090.9 L2025.1 1091.5 M2035.9 1092.7 L2044.2 1092.0 L2052.9 1091.1 L2061.3 1090.3 M2072.0 1091.5 L2080.4 1090.3 L2089.0 1092.4 L2097.4 1091.5" stroke-width="6" stroke-linejoin="round"/>
<path d="M228.9 1386.5 L237.2 1387.5 L245.9 1385.5 L254.3 1386.5 M265.0 1386.5 L273.4 1387.3 L282.0 1385.7 L290.4 1386.5 M301.1 1385.6 L309.5 1387.2 L318.2 1387.2 L326.5 1385.6 M337.3 1386.5 L345.7 1386.0 L354.3 1382.8 L362.7 1382.3 M373.4 1382.8 L381.8 1381.4 L390.4 1381.4 L398.8 1382.8 M409.6 1382.8 L417.9 1382.3 L426.6 1381.7 L435.0 1381.3 M445.7 1382.0 L454.1 1382.0 L462.7 1382.0 L471.1 1382.0 M481.8 1382.0 L490.2 1380.8 L498.9 1383.0 L507.2 1382.0 M518.0 1383.2 L526.4 1381.1 L535.0 1379.8 L543.4 1380.5 M554.1 1377.6 L562.5 1377.5 L571.1 1377.5 L579.5 1377.5 M590.3 1376.2 L598.6 1378.6 L607.3 1378.6 L615.7 1376.2 M626.4 1377.5 L634.8 1377.5 L643.4 1377.5 L651.8 1377.5 M662.5 1376.6 L670.9 1377.2 L679.6 1377.9 L687.9 1378.5 M698.7 1375.0 L707.1 1375.5 L715.7 1374.1 L724.1 1372.0 M734.8 1374.0 L743.2 1373.4 L751.8 1372.7 L760.2 1372.1 M771.0 1373.1 L779.3 1373.1 L788.0 1373.1 L796.4 1373.1 M807.1 1374.0 L815.5 1373.4 L824.1 1372.7 L832.5 1372.2 M843.2 1373.1 L851.6 1373.1 L860.3 1371.8 L868.6 1370.4 M879.4 1367.5 L887.8 1368.2 L896.4 1369.0 L904.8 1369.7 M915.5 1369.2 L923.9 1368.8 L932.5 1368.3 L940.9 1367.9 M951.7 1368.6 L960.0 1368.6 L968.7 1368.6 L977.1 1368.6 M987.8 1369.5 L996.2 1368.9 L1004.8 1368.3 L1013.2 1367.7 M1023.9 1368.6 L1032.3 1368.6 L1041.0 1368.6 L1049.3 1367.4 M1060.1 1365.6 L1068.5 1364.2 L1077.1 1364.1 L1085.5 1364.1 M1096.2 1364.1 L1104.6 1364.1 L1113.2 1364.1 L1121.6 1364.1 M1132.4 1364.1 L1140.7 1363.2 L1149.4 1364.8 L1157.8 1364.1 M1168.5 1362.8 L1176.9 1365.1 L1185.5 1365.1 L1193.9 1362.8 M1204.6 1365.0 L1213.0 1363.0 L1221.7 1361.0 L1230.0 1359.1 M1240.8 1360.5 L1249.2 1360.0 L1257.8 1359.3 L1266.2 1358.8 M1276.9 1359.6 L1285.3 1358.5 L1293.9 1360.5 L1302.3 1359.6 M1313.1 1359.6 L1321.4 1359.6 L1330.1 1359.6 L1338.5 1359.6 M1349.2 1359.6 L1357.6 1359.6 L1366.2 1359.6 L1374.6 1358.4 M1385.3 1356.6 L1393.7 1356.3 L1402.4 1354.1 L1410.7 1355.2 M1421.5 1356.4 L1429.9 1354.2 L1438.5 1354.2 L1446.9 1356.4 M1457.6 1354.1 L1466.0 1356.0 L1474.6 1356.0 L1483.0 1354.1 M1493.8 1353.7 L1502.1 1356.3 L1510.8 1356.3 L1519.2 1353.7 M1529.9 1356.2 L1538.3 1354.4 L1546.9 1354.4 L1555.3 1356.2 M1566.0 1353.6 L1574.4 1351.5 L1583.1 1351.4 L1591.4 1350.7 M1602.2 1350.7 L1610.6 1349.4 L1619.2 1351.6 L1627.6 1350.7 M1638.3 1350.7 L1646.7 1350.7 L1655.3 1350.7 L1663.7 1350.7 M1674.5 1352.0 L1682.8 1351.2 L1691.5 1350.2 L1699.9 1349.4 M1710.6 1350.7 L1719.0 1350.7 L1727.6 1349.3 L1736.0 1348.0 M1746.7 1346.2 L1755.1 1344.9 L1763.8 1347.2 L1772.1 1346.2 M1782.9 1346.2 L1791.3 1346.2 L1799.9 1346.2 L1808.3 1346.2 M1819.0 1347.1 L1827.4 1345.5 L1836.0 1345.5 L1844.4 1347.1 M1855.2 1346.8 L1863.5 1346.4 L1872.2 1346.0 L1880.6 1345.6 M1891.3 1343.5 L1899.7 1342.9 L1908.3 1342.3 L1916.7 1342.9 M1927.4 1341.7 L1935.8 1341.0 L1944.5 1342.2 L1952.8 1341.7 M1963.6 1341.7 L1972.0 1341.7 L1980.6 1341.7 L1989.0 1341.7 M1999.7 1341.0 L2008.1 1342.3 L2016.7 1342.3 L2025.1 1341.0 M2035.9 1340.8 L2044.2 1341.4 L2052.9 1342.0 L2061.3 1342.6 M2072.0 1341.7 L2080.4 1340.9 L2089.0 1338.2 L2097.4 1337.5" stroke-width="6" stroke-linejoin="round"/>
</g>
<text transform="translate(0 1429.2) scale(1 1.035)" x="141.2 154.8 181.9" y="0" font-size="44.6">-20</text>
<text transform="translate(0 1294.5) scale(1 1.035)" x="181.9" y="0" font-size="44.6">0</text>
<text transform="translate(0 1159.8) scale(1 1.035)" x="154.8 181.9" y="0" font-size="44.6">20</text>
<text transform="translate(0 1025.1) scale(1 1.035)" x="154.8 181.9" y="0" font-size="44.6">40</text>
<text transform="translate(0 890.4) scale(1 1.035)" x="154.8 181.9" y="0" font-size="44.6">60</text>
<text transform="translate(0 755.7) scale(1 1.035)" x="154.8 181.9" y="0" font-size="44.6">80</text>
<text transform="translate(0 621.0) scale(1 1.035)" x="127.7 154.8 181.9" y="0" font-size="44.6">100</text>
<text transform="translate(0 486.2) scale(1 1.035)" x="127.7 154.8 181.9" y="0" font-size="44.6">120</text>
<text transform="translate(0 351.5) scale(1 1.035)" x="127.7 154.8 181.9" y="0" font-size="44.6">140</text>
<text transform="translate(0 216.8) scale(1 1.035)" x="127.7 154.8 181.9" y="0" font-size="44.6">160</text>
<text transform="translate(0 82.1) scale(1 1.035)" x="127.7 154.8 181.9" y="0" font-size="44.6">180</text>
<text transform="translate(0 1480.0) scale(1 1.035)" x="217.9" y="0" font-size="44.6">0</text>
<text transform="translate(0 1480.0) scale(1 1.035)" x="412.1 439.2" y="0" font-size="44.6">10</text>
<text transform="translate(0 1480.0) scale(1 1.035)" x="619.9 647.0" y="0" font-size="44.6">20</text>
<text transform="translate(0 1480.0) scale(1 1.035)" x="827.7 854.8" y="0" font-size="44.6">30</text>
<text transform="translate(0 1480.0) scale(1 1.035)" x="1035.4 1062.5" y="0" font-size="44.6">40</text>
<text transform="translate(0 1480.0) scale(1 1.035)" x="1243.2 1270.3" y="0" font-size="44.6">50</text>
<text transform="translate(0 1480.0) scale(1 1.035)" x="1451.0 1478.1" y="0" font-size="44.6">60</text>
<text transform="translate(0 1480.0) scale(1 1.035)" x="1658.7 1685.8" y="0" font-size="44.6">70</text>
<text transform="translate(0 1480.0) scale(1 1.035)" x="1866.5 1893.6" y="0" font-size="44.6">80</text>
<text transform="translate(0 1480.0) scale(1 1.035)" x="2074.3 2101.4" y="0" font-size="44.6">90</text>
<text transform="translate(0 1569.8) scale(1 1.035)" x="1034.7 1065.0 1092.7 1119.5 1134.6 1150.0 1164.0 1192.5 1206.0 1219.7 1247.6 1273.5" y="0" font-size="44.6">Years of age</text>
<text transform="translate(87.2 0) rotate(-90) scale(1 1.035)" x="-1188.0 -1156.7 -1129.8 -1116.4 -1089.5 -1053.7 -1040.2 -1013.4 -986.5 -964.1 -937.2 -928.3 -914.8 -901.4 -888.0 -865.6 -838.7 -825.3 -798.4 -776.0 -749.2 -735.7 -713.3 -686.5 -659.6 -637.2 -610.3 -583.5 -570.0 -556.6 -529.7 -516.3 -507.3 -480.5 -453.6 -440.2 -426.7 -399.9 -373.0 -359.6 -323.7 -314.8" y="0" font-size="44.6">Serum basal tryptase concentration (ng/ml)</text>
</svg>
</body></html>
